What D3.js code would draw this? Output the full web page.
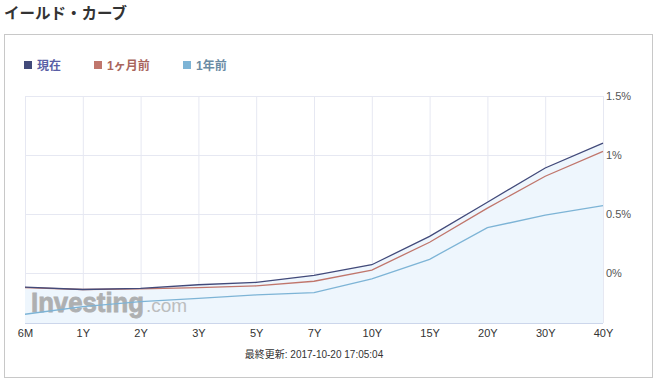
<!DOCTYPE html>
<html>
<head>
<meta charset="utf-8">
<script src="https://cdn.jsdelivr.net/npm/d3@7"></script>
<style>
  body { margin: 0; background: #fff; font-family: Arial, "Liberation Sans", "Noto Sans CJK JP", sans-serif; }
</style>
</head>
<body>
<script>
// maturities and yields (%)
const maturities = ['6M', '1Y', '2Y', '3Y', '5Y', '7Y', '10Y', '15Y', '20Y', '30Y', '40Y'];
const current = [-0.12, -0.14, -0.13, -0.10, -0.08, -0.02, 0.07, 0.31, 0.60, 0.89, 1.10];
const monthAgo = [-0.125, -0.14, -0.135, -0.125, -0.11, -0.07, 0.025, 0.26, 0.55, 0.82, 1.03];
const yearAgo = [-0.35, -0.285, -0.243, -0.215, -0.186, -0.167, -0.05, 0.116, 0.384, 0.49, 0.57];
const yTicks = [0, 0.5, 1, 1.5];
const yTickLabels = ['0%', '0.5%', '1%', '1.5%'];
const seriesNames = ['現在', '1ヶ月前', '1年前'];

const W = 658, H = 385;
const plot = { left: 25, right: 603, top: 96, bottom: 323 };

const svg = d3.select('body').append('svg')
  .attr('width', W).attr('height', H)
  .style('display', 'block');

// title
svg.append('text')
  .attr('x', 4).attr('y', 19)
  .attr('font-size', 15.5).attr('font-weight', 'bold')
  .attr('fill', '#333')
  .style('font-family', '"Noto Sans CJK JP", sans-serif')
  .text('イールド・カーブ');

// outer frame
svg.append('rect')
  .attr('x', 4.5).attr('y', 34.5)
  .attr('width', 648).attr('height', 343)
  .attr('fill', 'none').attr('stroke', '#c8c8c8');

const x = d3.scalePoint().domain(maturities).range([plot.left, plot.right]);
const y = d3.scaleLinear().domain([-0.424, 1.5]).range([plot.bottom, plot.top]);

// plot background grid
const grid = svg.append('g');
grid.selectAll('.vl').data(maturities).enter().append('line')
  .attr('x1', (d) => x(d) + 0.5).attr('x2', (d) => x(d) + 0.5)
  .attr('y1', plot.top).attr('y2', plot.bottom)
  .attr('stroke', '#e6e8f2');
grid.selectAll('.hl').data(yTicks).enter().append('line')
  .attr('x1', plot.left).attr('x2', plot.right)
  .attr('y1', (d) => Math.round(y(d)) + 0.5).attr('y2', (d) => Math.round(y(d)) + 0.5)
  .attr('stroke', '#e6e8f2');

// area under current curve
const area = d3.area()
  .x((d, i) => x(maturities[i]))
  .y0(plot.bottom)
  .y1((d) => y(d));
svg.append('path')
  .datum(current)
  .attr('d', area)
  .attr('fill', '#eef6fd');

// watermark
const wm = svg.append('g').attr('opacity', 0.85);
wm.append('text')
  .attr('x', 31).attr('y', 312)
  .attr('fill', '#a4a4a4')
  .attr('font-size', 27).attr('font-weight', 'bold')
  .attr('stroke', '#a4a4a4').attr('stroke-width', 0.8)
  .attr('textLength', 113).attr('lengthAdjust', 'spacingAndGlyphs')
  .text('Investing');
wm.append('text')
  .attr('x', 146).attr('y', 312)
  .attr('font-size', 19)
  .attr('fill', '#b4b4b4')
  .text('.com');

// lines
const line = d3.line()
  .x((d, i) => x(maturities[i]))
  .y((d) => y(d));
const series = [
  { name: seriesNames[2], values: yearAgo, color: '#7db4d6' },
  { name: seriesNames[1], values: monthAgo, color: '#c0766c' },
  { name: seriesNames[0], values: current, color: '#424a7a' },
];
svg.selectAll('.series').data(series).enter().append('path')
  .attr('d', (s) => line(s.values))
  .attr('fill', 'none')
  .attr('stroke', (s) => s.color)
  .attr('stroke-width', 1.3);

// bottom axis line
svg.append('line')
  .attr('x1', plot.left).attr('x2', plot.right)
  .attr('y1', plot.bottom + 0.5).attr('y2', plot.bottom + 0.5)
  .attr('stroke', '#ccd6eb');

// x labels
const xAxis = d3.axisBottom(x).tickSize(0).tickPadding(6);
const gx = svg.append('g')
  .attr('transform', `translate(0,${plot.bottom})`)
  .call(xAxis);
gx.select('.domain').remove();
gx.selectAll('text')
  .attr('font-size', 11).attr('fill', '#333')
  .style('font-family', 'Arial, "Liberation Sans", sans-serif');

// y labels on the right
const yAxis = d3.axisRight(y)
  .tickValues(yTicks)
  .tickFormat((d, i) => yTickLabels[i])
  .tickSize(0).tickPadding(3);
const gy = svg.append('g')
  .attr('transform', `translate(${plot.right},0)`)
  .call(yAxis);
gy.select('.domain').remove();
gy.selectAll('text')
  .attr('font-size', 11).attr('fill', '#555')
  .style('font-family', 'Arial, "Liberation Sans", sans-serif');

// legend
const legendItems = [
  { name: seriesNames[0], color: '#424a7a', text: '#5a5fa6', x: 24 },
  { name: seriesNames[1], color: '#c0766c', text: '#a9665d', x: 94 },
  { name: seriesNames[2], color: '#7db4d6', text: '#6b8ba4', x: 183 },
];
const lg = svg.selectAll('.lg').data(legendItems).enter().append('g')
  .attr('transform', (d) => `translate(${d.x},61)`);
lg.append('rect')
  .attr('width', 8).attr('height', 8)
  .attr('fill', (d) => d.color);
lg.append('text')
  .attr('x', 13).attr('y', 9)
  .attr('font-size', 12).attr('font-weight', 'bold')
  .attr('fill', (d) => d.text)
  .style('font-family', 'Arial, "Noto Sans CJK JP", sans-serif')
  .text((d) => d.name);

// footer
svg.append('text')
  .attr('x', 314).attr('y', 358)
  .attr('text-anchor', 'middle')
  .attr('font-size', 10).attr('fill', '#333')
  .style('font-family', 'Arial, "Noto Sans CJK JP", sans-serif')
  .text('最終更新: 2017-10-20 17:05:04');
</script>
</body>
</html>
